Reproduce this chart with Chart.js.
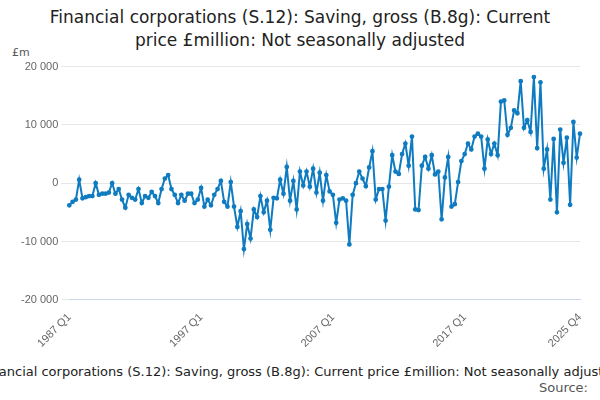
<!DOCTYPE html>
<html>
<head>
<meta charset="utf-8">
<script src="https://cdn.jsdelivr.net/npm/chart.js@4"></script>
<style>
body { margin: 0; width: 600px; height: 400px; overflow: hidden; background: #fff; font-family: "DejaVu Sans", sans-serif; position: relative; }
#title { position: absolute; top: 6px; left: 0; width: 600px; text-align: center; font-size: 17px; color: #222; line-height: 23px; }
#unit { position: absolute; top: 46px; left: 12px; font-size: 11px; color: #555; }
#wrap { position: absolute; top: 57px; left: 0; width: 600px; height: 296px; }
#foot { position: absolute; top: 364px; left: 0; width: 600px; white-space: nowrap; overflow: hidden; font-size: 13px; color: #222; text-align: center; }
#foot span { position: relative; left: 50%; display: inline-block; transform: translateX(-50%); }
#source { position: absolute; top: 380px; right: 12px; font-size: 13px; color: #555; }
</style>
</head>
<body>
<div id="title">Financial corporations (S.12): Saving, gross (B.8g): Current<br>price £million: Not seasonally adjusted</div>
<div id="unit">£m</div>
<div id="wrap"><canvas id="c"></canvas></div>
<div id="foot"><span>Financial corporations (S.12): Saving, gross (B.8g): Current price £million: Not seasonally adjusted</span></div>
<div id="source">Source:</div>
<script>
const firstYear = 1987;
const shownLabels = ['1987 Q1', '1997 Q1', '2007 Q1', '2017 Q1', '2025 Q4'];
const savingValues = [
  -3800,-3200,-2800,600,-2600,-2400,-2200,-2200,0,-2000,-1800,-1800,-1600,0,-1800,-1000,
  -2800,-4200,-2000,-2500,-2800,-1000,-3400,-2200,-2500,-1500,-2200,-3400,-1000,800,1400,
  -1000,-2000,-3400,-2000,-3000,-1800,-1800,-3400,-2800,-800,-4000,-2800,-3800,-2000,-1000,400,
  -3200,-4000,200,-4000,-7500,-4800,-11300,
  -7000,-9500,-4500,-5800,-2200,-5000,-3000,-8000,-2500,-2600,600,-1800,2800,-3000,400,-4500,
  2000,-400,2000,-600,2500,-1600,1800,-3000,1400,-1400,-2000,-6800,-2800,-2600,-3000,-10500,
  -2000,0,2000,800,-500,2700,5500,-2800,-1000,-1000,-6400,-600,4800,2000,1600,5000,6800,3000,8000,
  -4500,-4600,3000,4500,2500,4800,1500,2000,-6200,
  1000,4500,-4000,-3600,200,3800,5000,6800,5800,8000,8500,8000,2500,7500,5000,6800,4800,14000,
  14200,8300,9500,12500,12000,17500,9500,10800,8800,18200,6000,17300,
  2500,5800,-2800,7600,-5000,9200,3500,7800,-3700,10500,4400,8500
];
const quarterLabels = savingValues.map((v, i) => (firstYear + Math.floor(i / 4)) + ' Q' + (i % 4 + 1));

new Chart(document.getElementById('c').getContext('2d'), {
  type: 'line',
  data: {
    labels: quarterLabels,
    datasets: [{
      data: savingValues,
      borderColor: '#0f7bc0',
      backgroundColor: '#0f7bc0',
      borderWidth: 2,
      pointRadius: 1.4,
      tension: 0
    }]
  },
  options: {
    responsive: true,
    maintainAspectRatio: false,
    animation: false,
    layout: { padding: { left: 18, right: 20, top: 8 } },
    plugins: { legend: { display: false }, tooltip: { enabled: false } },
    scales: {
      x: {
        grid: { display: false, drawTicks: true },
        border: { color: '#ccd6eb' },
        ticks: {
          autoSkip: false, maxRotation: 45, minRotation: 45,
          color: '#666', font: { size: 11 },
          callback: function(v) { const l = this.getLabelForValue(v); return shownLabels.includes(l) ? l : null; }
        }
      },
      y: {
        min: -20000, max: 20000,
        border: { display: false },
        grid: { color: '#e6e6e6' },
        ticks: {
          stepSize: 10000, color: '#666', font: { size: 11 },
          callback: v => v.toLocaleString('en-US').replace(',', ' ')
        }
      }
    }
  }
});
</script>
</body>
</html>
